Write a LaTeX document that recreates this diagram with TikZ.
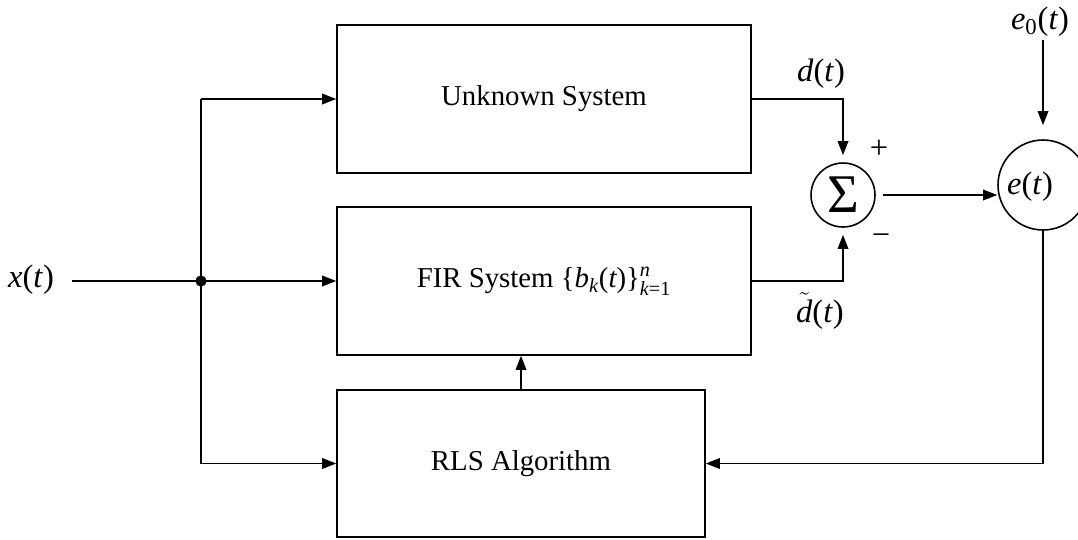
\documentclass[tikz,border=0pt]{standalone}
\usepackage{amsmath}
\usepackage{fontspec}
\setmainfont{Liberation Serif}
\usetikzlibrary{arrows.meta,calc}
\newcommand{\mi}[1]{\textit{#1}}
\begin{document}
\begin{tikzpicture}[x=0.02cm,y=-0.02cm,
  font=\fontsize{16.4}{19}\selectfont,
  blk/.style={draw,line width=0.9pt,minimum width=#1,inner sep=0pt},
  sumc/.style={draw,circle,line width=0.9pt,inner sep=0pt},
  wire/.style={line width=0.9pt},
  arr/.style={wire,-{Triangle[length=8pt,width=6pt]}},
  lbl/.style={inner sep=0pt,font=\fontsize{18.5}{21}\selectfont}]
\useasboundingbox (0,0) rectangle (1078,539);
\node[blk=8.28cm,minimum height=2.96cm] (unk) at (544,99) {Unknown System};
\node[blk=8.28cm,minimum height=2.96cm] (fir) at (544,281) {FIR System \{$\mi{b}_{\mi{k}}\text{(}\mi{t}\text{)}\text{\}}^{\mi{n}}_{\mi{k}\text{=1}}$};
\node[blk=7.36cm,minimum height=2.94cm] (rls) at (521,463.5) {RLS Algorithm};
\node[sumc,minimum size=1.28cm] (sum) at (843,195) {\fontsize{31}{31}\selectfont Σ};
\node[sumc,minimum size=1.8cm] (e) at (1043,185) {};
\node[lbl] (etxt) at (1030,187) {\mi{e}(\mi{t})};
\node[lbl] (xl) at (31,280) {\mi{x}(\mi{t})};
\coordinate (xin) at (72,281);
\coordinate (j) at (201,281);
\node[lbl] (dl) at (821,74) {\mi{d}(\mi{t})};
\node[lbl] (dtl) at (820,311) {$\tilde{\mi{d}}$(\mi{t})};
\node[lbl] (pl) at (879,149) {+};
\node[lbl] (ml) at (881,240) {−};
\node[lbl] (e0l) at (1040,22) {\mi{e}$_{\text{0}}$(\mi{t})};
\coordinate (e0s) at (1043,40);
% input distribution
\draw[wire] (xin) -- (j);
\fill (j) circle (3.2pt);
\draw[wire] (j |- unk.west) -- (j |- rls.west);
\draw[arr] (j |- unk.west) -- (unk.west);
\draw[arr] (j) -- (fir.west);
\draw[arr] (j |- rls.west) -- (rls.west);
% adaptation
\draw[arr] (rls.north) -- (rls.north |- fir.south);
% to summer
\draw[arr,shorten >=4pt] (unk.east) -| (sum.north);
\draw[arr,shorten >=4pt] (fir.east) -| (sum.south);
\draw[arr] ([xshift=4pt]sum.east) -- (sum.east -| e.west);
% e0 in
\draw[arr,shorten >=8pt] (e0s) -- (e0s |- e.north);
% feedback
\draw[arr] (e.south) |- (rls.east);
\end{tikzpicture}
\end{document}
